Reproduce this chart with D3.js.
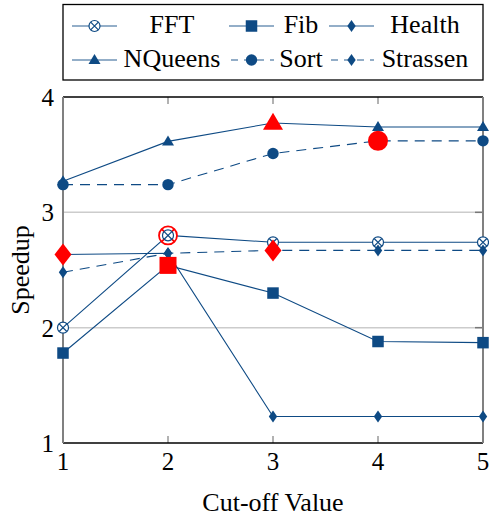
<!DOCTYPE html>
<html>
<head>
<meta charset="utf-8">
<script src="https://cdn.jsdelivr.net/npm/d3@7/dist/d3.min.js"></script>
<style>
  body { margin: 0; background: #fff; }
</style>
</head>
<body>
<svg id="chart" width="489" height="519"></svg>
<script>
// data
var cutoffs = [1, 2, 3, 4, 5];
var fft = [2.0, 2.8, 2.74, 2.74, 2.74];
var fib = [1.78, 2.54, 2.3, 1.88, 1.87];
var health = [2.635, 2.645, 1.23, 1.23, 1.23];
var nqueens = [3.27, 3.615, 3.775, 3.74, 3.74];
var sort = [3.24, 3.24, 3.51, 3.62, 3.62];
var strassen = [2.48, 2.645, 2.67, 2.67, 2.67];
var yTicks = [1, 2, 3, 4];

var series = [
  { name: "FFT", values: fft, marker: "otimes", dashed: false, best: 1 },
  { name: "Fib", values: fib, marker: "square", dashed: false, best: 1 },
  { name: "Health", values: health, marker: "diamond", dashed: false, best: 0 },
  { name: "NQueens", values: nqueens, marker: "triangle", dashed: false, best: 2 },
  { name: "Sort", values: sort, marker: "circle", dashed: true, best: 3 },
  { name: "Strassen", values: strassen, marker: "diamond", dashed: true, best: 2 },
];

var blue = "#0e4a84";
var red = "#ff0000";
var gray = "#808080";
var serif = "Liberation Serif, Tinos, Times New Roman, Times, Nimbus Roman, Noto Serif, DejaVu Serif, FreeSerif, serif";

var svg = d3.select("#chart").style("font-family", serif);
var margin = { top: 97, right: 6, bottom: 76, left: 63 };
var width = 489, height = 519;

var x = d3.scaleLinear().domain([1, 5]).range([margin.left, width - margin.right]);
var y = d3.scaleLinear().domain([1, 4]).range([height - margin.bottom, margin.top]);

// grid
svg.append("g").selectAll("line")
  .data([2, 3])
  .join("line")
  .attr("x1", x(1)).attr("x2", x(5))
  .attr("y1", d => y(d)).attr("y2", d => y(d))
  .attr("stroke", "#cccccc").attr("stroke-width", 1.5);

// ticks inside the frame
var tickG = svg.append("g").attr("stroke", "#999").attr("stroke-width", 1.5);
[2, 3, 4].forEach(v => {
  tickG.append("line").attr("x1", x(v)).attr("x2", x(v)).attr("y1", y(1)).attr("y2", y(1) - 7);
  tickG.append("line").attr("x1", x(v)).attr("x2", x(v)).attr("y1", y(4)).attr("y2", y(4) + 7);
});
[2, 3].forEach(v => {
  tickG.append("line").attr("x1", x(5)).attr("x2", x(5) - 8).attr("y1", y(v)).attr("y2", y(v)).attr("stroke", "#777");
});

// frame
svg.append("line").attr("x1", x(1)).attr("x2", x(5)).attr("y1", y(4)).attr("y2", y(4))
  .attr("stroke", "#000").attr("stroke-width", 1.3);
svg.append("line").attr("x1", x(1)).attr("x2", x(5)).attr("y1", y(1)).attr("y2", y(1))
  .attr("stroke", "#000").attr("stroke-width", 1.3);
svg.append("line").attr("x1", x(1)).attr("x2", x(1)).attr("y1", y(4)).attr("y2", y(1))
  .attr("stroke", gray).attr("stroke-width", 2);
svg.append("line").attr("x1", x(5)).attr("x2", x(5)).attr("y1", y(4)).attr("y2", y(1))
  .attr("stroke", gray).attr("stroke-width", 2);

// tick labels
svg.append("g").selectAll("text")
  .data(cutoffs)
  .join("text")
  .attr("x", d => x(d)).attr("y", y(1) + 27)
  .attr("text-anchor", "middle")
  .style("font-family", serif)
  .attr("font-size", 25)
  .text(d => d);

svg.append("g").selectAll("text")
  .data(yTicks)
  .join("text")
  .attr("x", x(1) - 9).attr("y", d => y(d) + 9)
  .attr("text-anchor", "end")
  .style("font-family", serif)
  .attr("font-size", 25)
  .text(d => d);

// axis labels
svg.append("text")
  .attr("x", (x(1) + x(5)) / 2).attr("y", 511)
  .attr("text-anchor", "middle").attr("font-size", 26)
  .style("font-family", serif)
  .text("Cut-off Value");
svg.append("text")
  .attr("transform", `translate(29, ${(y(1) + y(4)) / 2}) rotate(-90)`)
  .attr("text-anchor", "middle").attr("font-size", 26)
  .style("font-family", serif)
  .text("Speedup");

// markers
drawMarker = (g, type, cx, cy, color, big) => {
  if (type == "otimes") {
    var r = big ? 9 : 5.5;
    g.append("circle").attr("cx", cx).attr("cy", cy).attr("r", r)
      .attr("fill", "#fff").attr("stroke", color).attr("stroke-width", big ? 1.8 : 1.2);
    var k = r * 0.7;
    g.append("path")
      .attr("d", `M${cx - k},${cy - k}L${cx + k},${cy + k}M${cx - k},${cy + k}L${cx + k},${cy - k}`)
      .attr("stroke", color).attr("stroke-width", big ? 1.8 : 1.2);
  } else if (type == "square") {
    var s = big ? 17 : 11.5;
    g.append("rect").attr("x", cx - s / 2).attr("y", cy - s / 2).attr("width", s).attr("height", s)
      .attr("fill", color);
  } else if (type == "circle") {
    g.append("circle").attr("cx", cx).attr("cy", cy).attr("r", big ? 10 : 5.7).attr("fill", color);
  } else if (type == "triangle") {
    var w = big ? 10 : 6, h = big ? 17 : 10;
    g.append("path")
      .attr("d", `M${cx},${cy - h * 0.6}L${cx + w},${cy + h * 0.4}L${cx - w},${cy + h * 0.4}Z`)
      .attr("fill", color);
  } else if (type == "diamond") {
    var dw = big ? 8.5 : 4.2, dh = big ? 11 : 6;
    g.append("path")
      .attr("d", `M${cx},${cy - dh}L${cx + dw},${cy}L${cx},${cy + dh}L${cx - dw},${cy}Z`)
      .attr("fill", color);
  }
};

var line = d3.line().x((d, i) => x(cutoffs[i])).y(d => y(d));

series.forEach(s => {
  var g = svg.append("g").attr("class", "series");
  g.append("path")
    .attr("d", line(s.values))
    .attr("fill", "none")
    .attr("stroke", blue)
    .attr("stroke-width", 1.1)
    .attr("stroke-dasharray", s.dashed ? "10,7" : null);
  s.values.forEach((v, i) => drawMarker(g, s.marker, x(cutoffs[i]), y(v), blue, false));
});

// highlighted best values
series.forEach(s => {
  var g = svg.append("g").attr("class", "best");
  var cx = x(cutoffs[s.best]), cy = y(s.values[s.best]);
  drawMarker(g, s.marker, cx, cy, red, true);
  if (s.marker == "otimes") drawMarker(g, s.marker, cx, cy, blue, false);
});

// legend
var legend = svg.append("g");
legend.append("rect")
  .attr("x", 63).attr("y", 4.5).attr("width", 420).attr("height", 75.5)
  .attr("fill", "#fff").attr("stroke", "#000").attr("stroke-width", 1.3);

var colSample = [72, 229, 329];
var colText = [172, 301, 425];
var rowY = [26, 60];

series.forEach((s, i) => {
  var col = i % 3, row = Math.floor(i / 3);
  var x0 = colSample[col], cy = rowY[row];
  legend.append("line")
    .attr("x1", x0).attr("x2", x0 + 45).attr("y1", cy).attr("y2", cy)
    .attr("stroke", blue).attr("stroke-opacity", 0.6).attr("stroke-width", 1.3)
    .attr("stroke-dasharray", s.dashed ? "7,6" : null)
    .attr("stroke-dashoffset", s.dashed ? -2 : null);
  drawMarker(legend, s.marker, x0 + 22.5, cy, blue, false);
  legend.append("text")
    .attr("x", colText[col]).attr("y", cy + 7)
    .attr("text-anchor", "middle").attr("font-size", 26)
    .style("font-family", serif)
    .text(s.name);
});
</script>
</body>
</html>
